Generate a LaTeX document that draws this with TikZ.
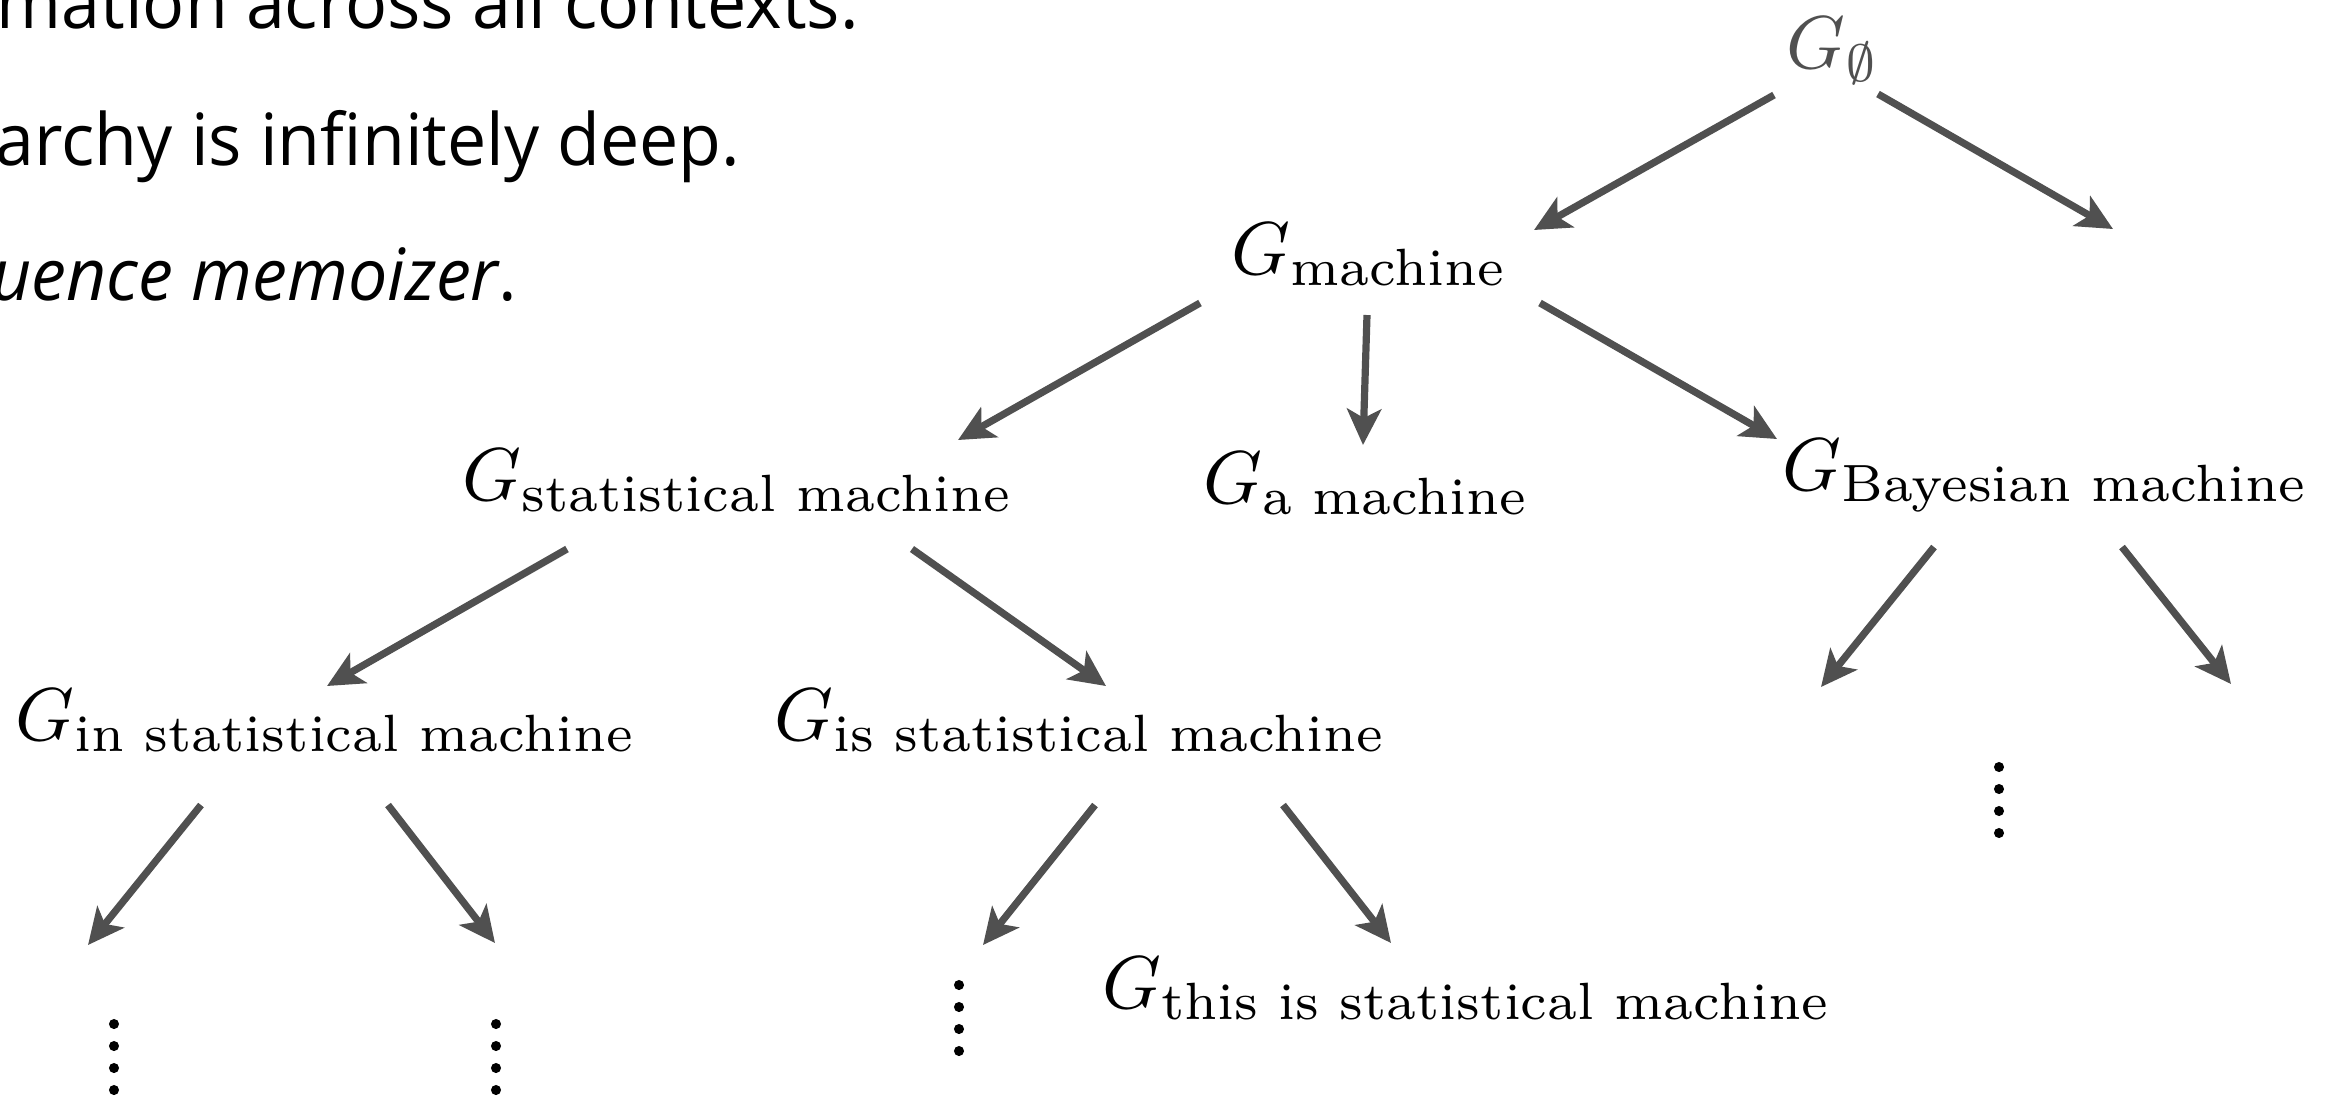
\documentclass[tikz,border=0pt]{standalone}
\usepackage{amsmath}
\usepackage{fontspec}
\newfontfamily\slidefont[FakeStretch=0.97]{Open Sans}
\usetikzlibrary{arrows.meta}
\definecolor{arrowgray}{HTML}{505050}

\begin{document}
\begin{tikzpicture}[x=0.2777pt, y=-0.2777pt,
    ctx/.style={anchor=base west, inner sep=0pt, scale=2.08, transform shape},
    slide/.style={anchor=base west, inner sep=0pt, font=\slidefont\fontsize{20}{24}\selectfont},
    edge/.style={draw=arrowgray, line width=2pt, -{Stealth[length=10pt, width=9.5pt, inset=2.5pt]}}]
  \useasboundingbox (0,0) rectangle (2328,1096);
  \clip (0,0) rectangle (2328,1096);

  % slide text, cut at the left edge
  \node[slide] (line1) at (-4,28) {mation across all contexts.};
  \node[slide] (line2) at (-5,165) {archy is infinitely deep.};
  \node[slide] (line3) at (-9,300) {\itshape uence memoizer\upshape.};

  % contexts
  \node[ctx, text=arrowgray] (root) at (1785,68) {$G_{\emptyset}$};
  \node[ctx] (mach) at (1230,274) {$G_{\text{machine}}$};
  \node[ctx] (stat) at (461,500) {$G_{\text{statistical machine}}$};
  \node[ctx] (amach) at (1202,503) {$G_{\text{a machine}}$};
  \node[ctx] (bayes) at (1781,490) {$G_{\text{Bayesian machine}}$};
  \node[ctx] (instat) at (14,740) {$G_{\text{in statistical machine}}$};
  \node[ctx] (isstat) at (773,740) {$G_{\text{is statistical machine}}$};
  \node[ctx] (thisis) at (1101,1008) {$G_{\text{this is statistical machine}}$};

  % open ends
  \coordinate (rootR) at (2113,229);
  \coordinate (instatL) at (88,945);
  \coordinate (instatR) at (495,943);
  \coordinate (isstatL) at (983,945);
  \coordinate (bayesL) at (1821,687);
  \coordinate (bayesR) at (2231,684);

  \draw[edge] ([shift={(-11,27)}]root.base west) -- ([shift={(304,-44)}]mach.base west);
  \draw[edge] ([shift={(93,26)}]root.base west) -- (rootR);
  \draw[edge] ([shift={(-30,29)}]mach.base west) -- ([shift={(497,-60)}]stat.base west);
  \draw[edge] ([shift={(137,41)}]mach.base west) -- ([shift={(161,-58)}]amach.base west);
  \draw[edge] ([shift={(310,29)}]mach.base west) -- ([shift={(-4,-51)}]bayes.base west);
  \draw[edge] ([shift={(106,49)}]stat.base west) -- ([shift={(313,-54)}]instat.base west);
  \draw[edge] ([shift={(451,49)}]stat.base west) -- ([shift={(333,-54)}]isstat.base west);
  \draw[edge] ([shift={(187,65)}]instat.base west) -- (instatL);
  \draw[edge] ([shift={(374,65)}]instat.base west) -- (instatR);
  \draw[edge] ([shift={(322,65)}]isstat.base west) -- (isstatL);
  \draw[edge] ([shift={(510,65)}]isstat.base west) -- ([shift={(290,-65)}]thisis.base west);
  \draw[edge] ([shift={(153,57)}]bayes.base west) -- (bayesL);
  \draw[edge] ([shift={(341,57)}]bayes.base west) -- (bayesR);

  % more levels below
  \foreach \x/\y in {114/1024, 496/1024, 959/985, 1999/767}
    \foreach \k in {0,...,3}
      \fill (\x,\y+22*\k) circle (1.4pt);
\end{tikzpicture}
\end{document}
